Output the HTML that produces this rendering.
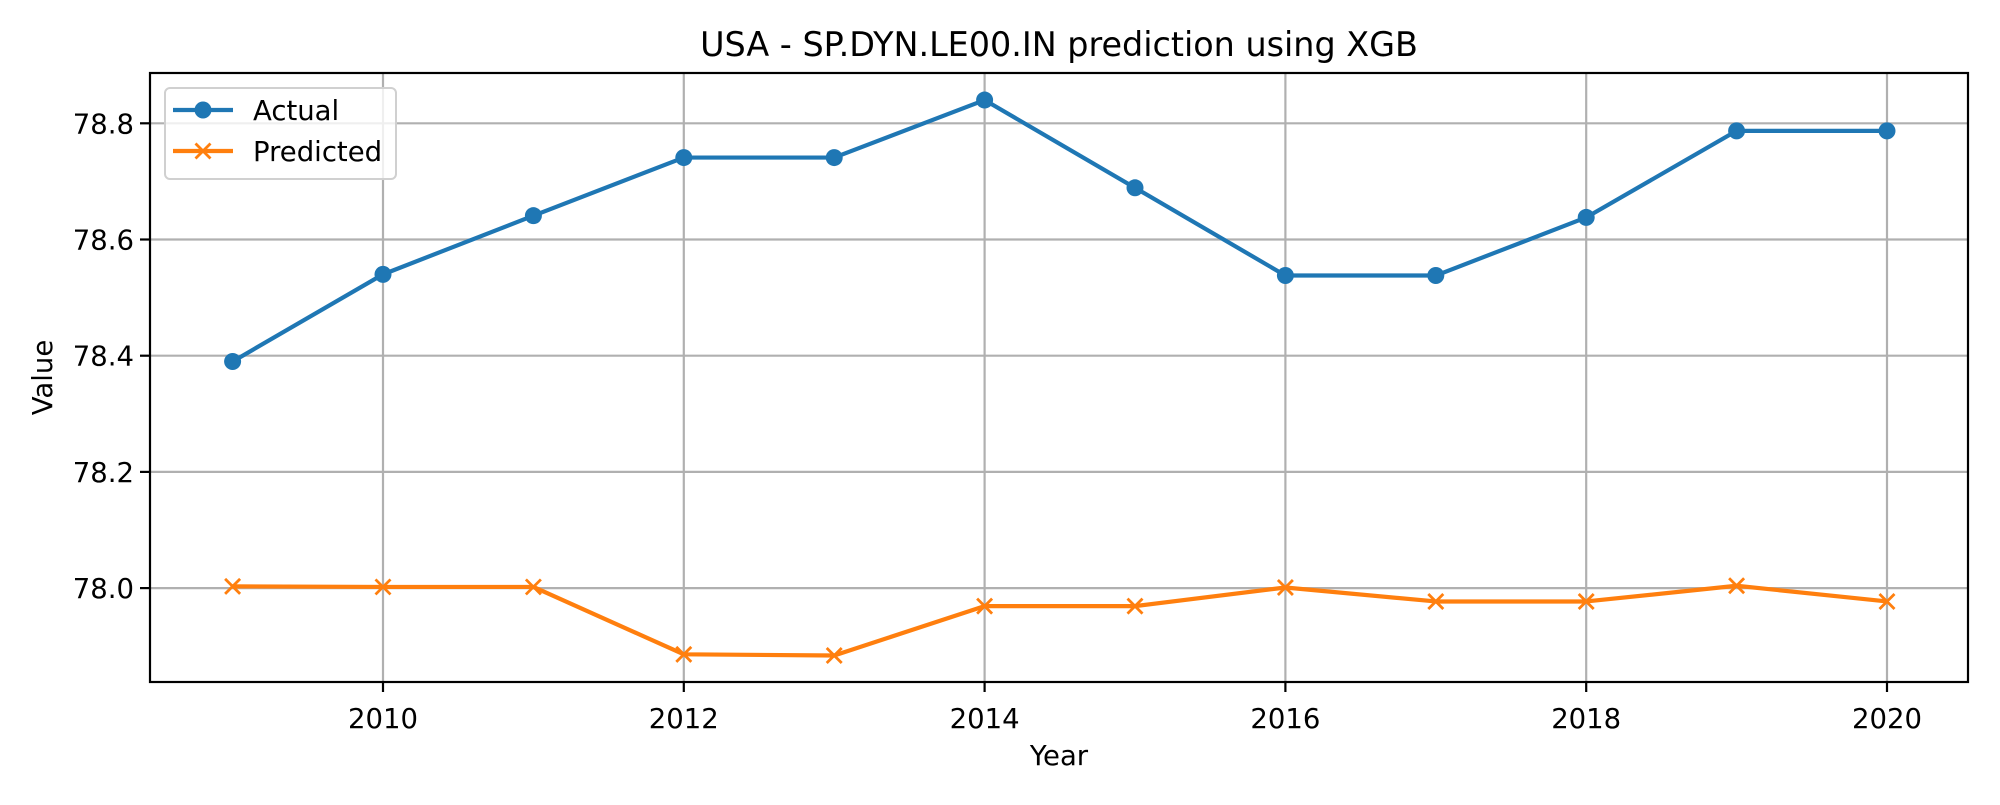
<!DOCTYPE html>
<html><head><meta charset="utf-8"><style>
body{margin:0;background:#fff}
svg text{font-family:"DejaVu Sans","Liberation Sans",sans-serif;fill:#000}
</style></head><body>
<svg id="chart" width="2000" height="800" xmlns="http://www.w3.org/2000/svg">
<rect width="2000" height="800" fill="#fff"/>
<g id="grid"></g><g id="series"></g><g id="axes"></g>
</svg>
<script>
const years=[2009,2010,2011,2012,2013,2014,2015,2016,2017,2018,2019,2020];
const actual=[78.39,78.54,78.641,78.741,78.741,78.84,78.689,78.538,78.538,78.638,78.787,78.787];
const predicted=[78.003,78.002,78.002,77.886,77.884,77.969,77.969,78.001,77.977,77.977,78.004,77.977];
const xTicks=[2010,2012,2014,2016,2018,2020];
const yTicks=[78.0,78.2,78.4,78.6,78.8];
const L=150,R=1968,T=73,B=682;
const xs=v=>383+(v-2010)*150.4;
const ys=v=>123.3+(78.8-v)*581;
const NS='http://www.w3.org/2000/svg';
function mk(tag,attrs,parent,txt){const e=document.createElementNS(NS,tag);for(const k in attrs)e.setAttribute(k,attrs[k]);if(txt!==undefined)e.textContent=txt;parent.appendChild(e);return e;}
const svg=document.getElementById('chart');
const grid=document.getElementById('grid'),ser=document.getElementById('series'),ax=document.getElementById('axes');
xTicks.forEach(t=>{const x=xs(t);
 const g=mk('line',{x1:x,x2:x,y1:T,y2:B,stroke:'#b0b0b0','stroke-width':2.2},grid);
 
 
 mk('line',{x1:x,x2:x,y1:B,y2:B+10,stroke:'#000','stroke-width':2.2},ax);
 const l=mk('text',{x:x,y:728,'font-size':27.5,'text-anchor':'middle'},ax,String(t));
 
 
});
yTicks.forEach(t=>{const y=ys(t);
 const g=mk('line',{x1:L,x2:R,y1:y,y2:y,stroke:'#b0b0b0','stroke-width':2.2},grid);
 
 
 mk('line',{x1:L-10,x2:L,y1:y,y2:y,stroke:'#000','stroke-width':2.2},ax);
 const l=mk('text',{x:L-16,y:y+10,'font-size':27.5,'text-anchor':'end'},ax,t.toFixed(1));
 
 
});
const frame=mk('rect',{x:L,y:T,width:R-L,height:B-T,fill:'none',stroke:'#000','stroke-width':2.2},ax);


const ptsA=years.map((y,i)=>xs(y)+','+ys(actual[i])).join(' ');
const la=mk('polyline',{points:ptsA,fill:'none',stroke:'#1f77b4','stroke-width':4.2,'stroke-linejoin':'round'},ser);


years.forEach((y,i)=>{const c=mk('circle',{cx:xs(y),cy:ys(actual[i]),r:8.5,fill:'#1f77b4'},ser);
 
 });
const ptsP=years.map((y,i)=>xs(y)+','+ys(predicted[i])).join(' ');
const lp=mk('polyline',{points:ptsP,fill:'none',stroke:'#ff7f0e','stroke-width':4.2,'stroke-linejoin':'round'},ser);


function cross(cx,cy,p){const d=7.5;mk('path',{d:`M${cx-d},${cy-d}L${cx+d},${cy+d}M${cx-d},${cy+d}L${cx+d},${cy-d}`,stroke:'#ff7f0e','stroke-width':2.8},p);}
years.forEach((y,i)=>{const g=mk('g',{},ser);
 
 
 cross(xs(y),ys(predicted[i]),g);});
const title=mk('text',{x:(L+R)/2,y:56,'font-size':33.4,'text-anchor':'middle'},svg,'USA - SP.DYN.LE00.IN prediction using XGB');


const xt=mk('text',{x:(L+R)/2,y:765,'font-size':27.5,'text-anchor':'middle'},svg,'Year');


const yt=mk('text',{x:52,y:(T+B)/2,'font-size':27.5,'text-anchor':'middle',transform:`rotate(-90 52 ${(T+B)/2})`},svg,'Value');


const lg=mk('g',{},svg);


mk('rect',{x:165,y:88,width:231,height:91,rx:5,fill:'#fff','fill-opacity':0.8,stroke:'#d0d0d0','stroke-width':2},lg);
const e1=mk('g',{},lg);


mk('line',{x1:173,x2:233,y1:110,y2:110,stroke:'#1f77b4','stroke-width':4.2},e1);
mk('circle',{cx:203,cy:110,r:8.5,fill:'#1f77b4'},e1);
mk('text',{x:253,y:120,'font-size':27.5},e1,'Actual');
const e2=mk('g',{},lg);


mk('line',{x1:173,x2:233,y1:151,y2:151,stroke:'#ff7f0e','stroke-width':4.2},e2);
cross(203,151,e2);
mk('text',{x:253,y:161,'font-size':27.5},e2,'Predicted');
</script>
</body></html>
